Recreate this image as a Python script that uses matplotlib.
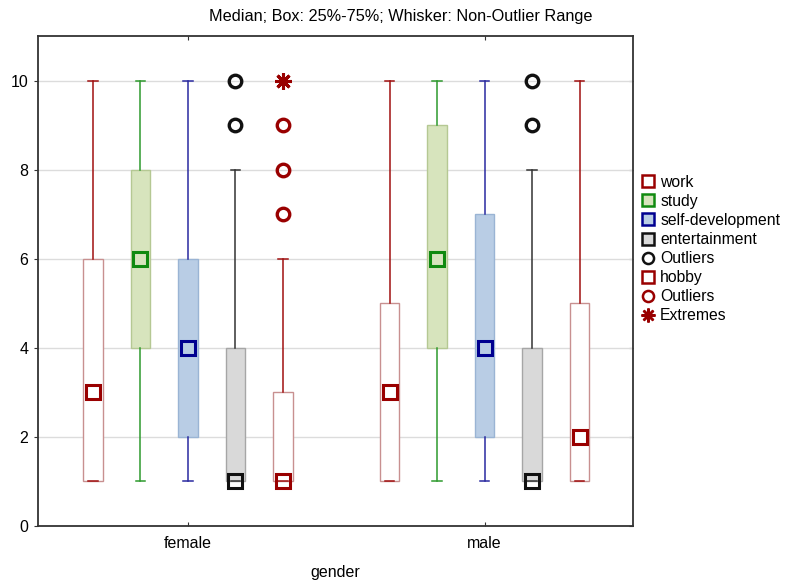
import matplotlib
matplotlib.use("Agg")
import matplotlib.pyplot as plt
from matplotlib.lines import Line2D

plt.rcParams['font.family'] = ['Liberation Sans', 'DejaVu Sans']

# data
groups = ['female', 'male']
series = ['work', 'study', 'self-development', 'entertainment', 'hobby']

# per group, per series: (whisker low, q1, median, q3, whisker high)
stats = {
    'female': {
        'work': (1, 1, 3, 6, 10),
        'study': (1, 4, 6, 8, 10),
        'self-development': (1, 2, 4, 6, 10),
        'entertainment': (1, 1, 1, 4, 8),
        'hobby': (1, 1, 1, 3, 6),
    },
    'male': {
        'work': (1, 1, 3, 5, 10),
        'study': (1, 4, 6, 9, 10),
        'self-development': (1, 2, 4, 7, 10),
        'entertainment': (1, 1, 1, 4, 8),
        'hobby': (1, 1, 2, 5, 10),
    },
}
outliers = {
    'female': {'entertainment': [9, 10], 'hobby': [7, 8, 9]},
    'male': {'entertainment': [9, 10]},
}
extremes = {
    'female': {'hobby': [10]},
    'male': {},
}

# styles
box_face = {'work': 'white', 'study': '#d7e4bd', 'self-development': '#b9cde5',
            'entertainment': '#d9d9d9', 'hobby': 'white'}
box_edge = {'work': '#c89090', 'study': '#b5c893', 'self-development': '#9ab4d4',
            'entertainment': '#a6a6a6', 'hobby': '#c89090'}
line_col = {'work': '#a01010', 'study': '#2e9a2e', 'self-development': '#2a2aa0',
            'entertainment': '#333333', 'hobby': '#a01010'}
med_col = {'work': '#990000', 'study': '#108a10', 'self-development': '#000090',
           'entertainment': '#111111', 'hobby': '#990000'}

fig = plt.figure(figsize=(7.86, 5.81), dpi=100)
ax = fig.add_axes([0.0483, 0.0947, 0.757, 0.8433])

offset = 0.16
width = 0.066
for gi, g in enumerate(groups):
    for si, s in enumerate(series):
        x = gi + (si - 2) * offset
        lo, q1, med, q3, hi = stats[g][s]
        bs = [dict(whislo=lo, q1=q1, med=med, q3=q3, whishi=hi, fliers=[])]
        ax.bxp(bs, positions=[x], widths=width, patch_artist=True, showfliers=False,
               boxprops=dict(facecolor=box_face[s], edgecolor=box_edge[s], linewidth=1),
               whiskerprops=dict(color=line_col[s], linewidth=1.1),
               capprops=dict(color=line_col[s], linewidth=1.1),
               capwidths=0.032,
               medianprops=dict(linestyle='none'), manage_ticks=False, zorder=2)
        ax.plot([x], [med], marker='s', ms=10, mfc='none', mec=med_col[s], mew=2.2,
                linestyle='none', zorder=4)
        out = outliers[g].get(s, [])
        if out:
            ax.plot([x] * len(out), out, marker='o', ms=9, mfc='none', mec=med_col[s],
                    mew=2.4, linestyle='none', zorder=4)
        ext = extremes[g].get(s, [])
        if ext:
            ax.plot([x] * len(ext), ext, marker=(8, 2, 0), ms=12, color='#990000',
                    mew=2.2, linestyle='none', zorder=4)

ax.set_xlim(-0.505, 1.5)
ax.set_ylim(0, 11)
ax.set_xticks(range(len(groups)))
ax.set_xticklabels(groups)
ax.set_yticks([0, 2, 4, 6, 8, 10])
ax.yaxis.grid(True, color='#dcdcdc', linewidth=1)
ax.set_axisbelow(True)
ax.tick_params(axis='both', labelsize=11.5, length=3, color='#333333')
ax.tick_params(axis='x', direction='in', top=True, pad=7)
ax.tick_params(axis='y', direction='out', pad=4)
ax.yaxis.set_ticks_position('left')
# inward ticks on the right spine
ax2 = ax.secondary_yaxis('right')
ax2.set_yticks([0, 2, 4, 6, 8, 10])
ax2.tick_params(direction='in', length=3, color='#333333', labelright=False)
ax2.spines['right'].set_visible(False)
for side in ['top', 'right', 'bottom', 'left']:
    ax.spines[side].set_linewidth(1.3)
    ax.spines[side].set_color('#333333')
ax.set_xlabel('gender', fontsize=11.5, labelpad=10)

fig.text(0.51, 0.972, 'Median; Box: 25%-75%; Whisker: Non-Outlier Range',
         ha='center', va='center', fontsize=11.7)

handles = [
    Line2D([], [], marker='s', ms=9, mfc='white', mec='#990000', mew=1.8, ls='none'),
    Line2D([], [], marker='s', ms=9, mfc='#d7e4bd', mec='#108a10', mew=1.8, ls='none'),
    Line2D([], [], marker='s', ms=9, mfc='#b9cde5', mec='#000090', mew=1.8, ls='none'),
    Line2D([], [], marker='s', ms=9, mfc='#d9d9d9', mec='#111111', mew=1.8, ls='none'),
    Line2D([], [], marker='o', ms=8, mfc='none', mec='#111111', mew=1.8, ls='none'),
    Line2D([], [], marker='s', ms=9, mfc='white', mec='#990000', mew=1.8, ls='none'),
    Line2D([], [], marker='o', ms=8, mfc='none', mec='#990000', mew=1.8, ls='none'),
    Line2D([], [], marker=(8, 2, 0), ms=10, color='#990000', mew=1.8, ls='none'),
]
labels = ['work', 'study', 'self-development', 'entertainment', 'Outliers',
          'hobby', 'Outliers', 'Extremes']
fig.legend(handles, labels, loc='upper left', bbox_to_anchor=(0.808, 0.71),
           frameon=False, fontsize=11.3, handlelength=0.8, handletextpad=0.4,
           labelspacing=0.26, borderaxespad=0)

fig.savefig('out.png', dpi=100)
